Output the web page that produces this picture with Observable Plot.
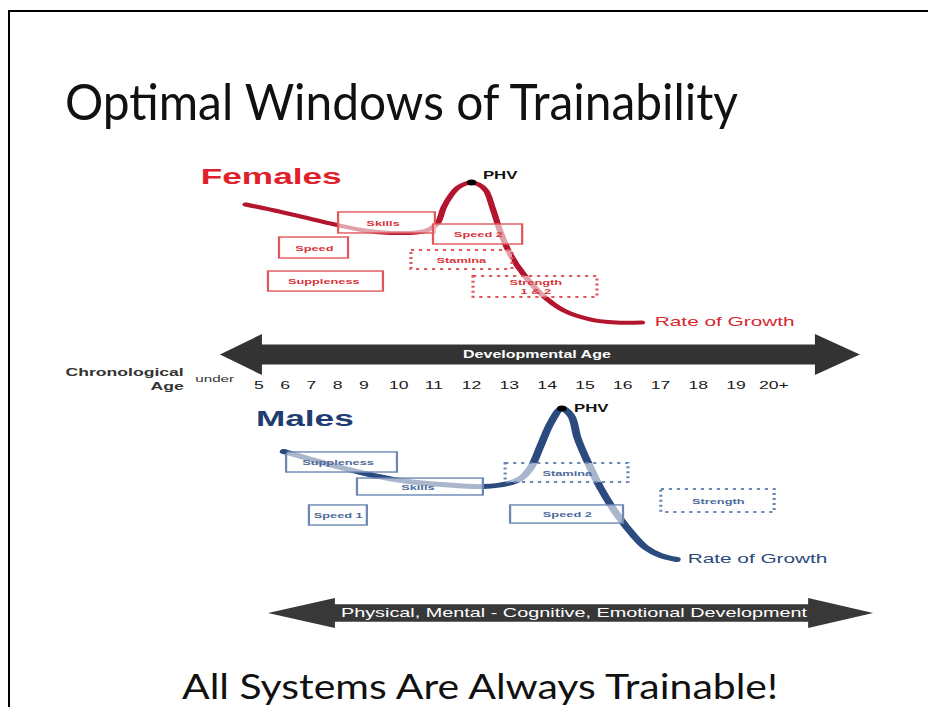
<!DOCTYPE html>
<html>
<head>
<meta charset="utf-8">
<script src="https://cdn.jsdelivr.net/npm/d3@7"></script>
<script src="https://cdn.jsdelivr.net/npm/@observablehq/plot@0.6"></script>
<style>
  html, body { margin: 0; background: #fff; overflow: hidden; }
  #page { position: relative; width: 928px; height: 707px; overflow: hidden; background: #fff; }
  #frame { position: absolute; left: 8px; top: 10px; width: 2000px; height: 2000px;
           border-left: 2.5px solid #000; border-top: 2.5px solid #000; }
  #page svg.layer { position: absolute; left: 0; transform-origin: 0 0; overflow: visible; }
</style>
</head>
<body>
<div id="page"><div id="frame"></div></div>
<script>
// ---------------- data ----------------
const titleText = "Optimal Windows of Trainability";
const footerText = "All Systems Are Always Trainable!";

const ageTicks  = [5, 6, 7, 8, 9, 10, 11, 12, 13, 14, 15, 16, 17, 18, 19, 20];
const ageLabels = ["5","6","7","8","9","10","11","12","13","14","15","16","17","18","19","20+"];

// Females: rate of growth curve (age, relative rate 0-10)
const femaleAge  = [4.50, 5.84, 6.98, 8.05, 9.06, 9.77, 10.49, 10.86, 11.11, 11.26, 11.45, 11.64, 11.85, 12.00, 12.19, 12.38, 12.56, 12.77, 13.04, 13.38, 13.83, 14.44, 15.16, 15.82, 16.51];
const femaleRate = [8.43, 7.90, 7.40, 6.93, 6.55, 6.40, 6.43, 6.64, 7.14, 8.21, 9.07, 9.64, 9.93, 10.0, 9.86, 9.43, 8.14, 6.43, 4.79, 3.43, 2.07, 0.86, 0.21, 0.00, 0.00];
// Females: windows of trainability
const femaleWindows = ["Skills", "Speed 2", "Speed", "Suppleness", "Stamina", "Strength\n1 & 2"];
const femaleStart   = [8.05, 11.00, 5.80, 5.38, 10.37, 12.06];
const femaleEnd     = [11.05, 13.36, 8.43, 9.57, 13.09, 15.34];
const femaleTop     = [7.86, 7.00, 6.07, 3.64, 5.14, 3.29];
const femaleBottom  = [6.36, 5.57, 4.57, 2.21, 3.79, 1.79];
const femaleDotted  = [false, false, false, false, true, true];

// Males: rate of growth curve
const maleAge  = [5.95, 6.87, 8.12, 9.29, 10.26, 11.19, 12.32, 12.96, 13.30, 13.57, 13.83, 14.10, 14.39, 14.63, 14.81, 15.08, 15.42, 15.87, 16.29, 16.61, 17.01, 17.43];
const maleRate = [7.15, 6.69, 6.09, 5.56, 5.17, 4.97, 4.83, 5.03, 5.36, 6.09, 7.55, 9.07, 10.0, 9.54, 8.01, 6.42, 4.70, 2.91, 1.59, 0.79, 0.26, 0.00];
// Males: windows of trainability
const maleWindows = ["Suppleness", "Skills", "Speed 1", "Stamina", "Speed 2", "Strength"];
const maleStart   = [6.07, 8.77, 6.94, 12.91, 13.04, 17.03];
const maleEnd     = [9.97, 12.32, 9.11, 16.16, 16.03, 20.03];
const maleTop     = [7.09, 5.36, 3.58, 6.36, 3.58, 4.64];
const maleBottom  = [5.76, 4.24, 2.25, 5.10, 2.38, 3.11];
const maleDotted  = [false, false, false, true, false, true];

// Arrows (age extents)
const devArrowX  = [3.55, 5.15, 5.15, 21.11, 21.11, 22.30];
const devArrowHW = [0, 1, 0.49, 0.49, 1, 0];
const devLabel = "Developmental Age";
const lifeArrowX  = [5.38, 7.93, 7.93, 20.93, 20.93, 22.65];
const lifeArrowHW = [0, 1, 0.58, 0.58, 1, 0];
const lifeLabel = "Physical, Mental - Cognitive, Emotional Development";

// ---------------- layout ----------------
const S = 1.6; // the original slide graphic is stretched horizontally
const W = 928 / S;
const xScale = {type: "linear", domain: [5, 9, 11, 20], range: [258, 363, 433, 773].map(v => v / S)};
const FONT = "'Liberation Sans', Arial, Helvetica, sans-serif";
const page = document.getElementById("page");

function place(svg, top) {
  svg.classList.add("layer");
  svg.style.top = top + "px";
  svg.style.transform = `scaleX(${S})`;
  svg.style.background = "transparent";
  page.appendChild(svg);
}

function panel(o) {
  const curve = o.ages.map((a, i) => ({age: a, rate: o.rates[i]}));
  const rows = o.names.map((name, i) => ({name, x1: o.x1[i], x2: o.x2[i], y1: o.y1[i], y2: o.y2[i], dotted: o.dotted[i]}));
  const peak = curve.reduce((m, d) => d.rate > m.rate ? d : m);
  const marks = [
    Plot.line(curve, {x: "age", y: "rate", stroke: o.curveColor, strokeWidth: o.curveWidth, curve: "catmull-rom", strokeLinecap: "round"}),
    Plot.rect(rows.filter(d => !d.dotted), {x1: "x1", x2: "x2", y1: "y1", y2: "y2", fill: "white", fillOpacity: 0.6, stroke: o.boxColor, strokeWidth: 1.4}),
    Plot.rect(rows.filter(d => d.dotted), {x1: "x1", x2: "x2", y1: "y1", y2: "y2", fill: "white", fillOpacity: 0.6, stroke: o.boxColor, strokeWidth: 2, strokeDasharray: "2,3"}),
    Plot.text(rows, {x: d => (d.x1 + d.x2) / 2, y: d => (d.y1 + d.y2) / 2, text: "name", fill: o.textColor, fontSize: 8, fontWeight: "bold", lineHeight: 1.05}),
    Plot.dot([peak], {x: "age", y: "rate", r: 3, fill: "#000"}),
    Plot.text([o.label], {x: o.labelAge, y: o.labelRate, textAnchor: "start", fill: o.labelColor, fontSize: 22, fontWeight: "bold"}),
    Plot.text(["PHV"], {x: o.phvAge, y: o.phvRate, textAnchor: "start", fill: "#111", fontSize: 10.5, fontWeight: "bold"}),
    Plot.text(["Rate of Growth"], {x: o.rogAge, y: o.rogRate, textAnchor: "start", fill: o.rogColor, fontSize: 13})
  ];
  if (o.startDot) marks.push(Plot.dot([curve[0]], {x: "age", y: "rate", r: 2.2, fill: o.curveColor}));
  return Plot.plot({
    width: W, height: o.height, margin: 0,
    style: {fontFamily: FONT},
    x: {...xScale, axis: null},
    y: {domain: [0, 10], range: o.yRange, axis: null},
    marks
  });
}

// Females panel
place(panel({
  ages: femaleAge, rates: femaleRate,
  names: femaleWindows, x1: femaleStart, x2: femaleEnd, y1: femaleBottom, y2: femaleTop, dotted: femaleDotted,
  curveColor: "#b3142e", curveWidth: 4, boxColor: "#e2575c", textColor: "#d8353c",
  label: "Females", labelAge: 2.79, labelRate: 10.43, labelColor: "#e0202a",
  phvAge: 12.30, phvRate: 10.5, rogAge: 16.85, rogRate: 0.07, rogColor: "#d9262e",
  height: 180, yRange: [172, 32]
}), 150);

// Developmental / chronological age band
{
  const arrow = devArrowX.map((x, i) => ({x, lo: -devArrowHW[i], hi: devArrowHW[i]}));
  const svg = Plot.plot({
    width: W, height: 70, marginTop: 0, marginLeft: 0, marginRight: 0, marginBottom: 22,
    style: {fontFamily: FONT},
    x: {...xScale, label: null},
    y: {domain: [-1, 1], range: [45, 4], axis: null},
    marks: [
      Plot.areaY(arrow, {x: "x", y1: "lo", y2: "hi", fill: "#333", curve: "linear"}),
      Plot.text([devLabel], {x: 13.73, y: 0, fill: "#fff", fontSize: 10, fontWeight: "bold"}),
      Plot.axisX(ageTicks, {anchor: "bottom", tickSize: 0, tickPadding: 3, label: null, fontSize: 11, color: "#1a1a1a",
        tickFormat: d => ageLabels[ageTicks.indexOf(d)]}),
      Plot.text(["Chronological\nAge"], {x: 2.14, y: -1.146, textAnchor: "end", fill: "#333", fontSize: 11, fontWeight: "bold", lineHeight: 1.25}),
      Plot.text(["under"], {x: 3.32, y: -1.146, fill: "#333", fontSize: 9.5})
    ]
  });
  place(svg, 330);
}

// Males panel
place(panel({
  ages: maleAge, rates: maleRate,
  names: maleWindows, x1: maleStart, x2: maleEnd, y1: maleBottom, y2: maleTop, dotted: maleDotted,
  curveColor: "#2b4a7d", curveWidth: 5, boxColor: "#6c87b4", textColor: "#4c6a99",
  label: "Males", labelAge: 4.89, labelRate: 9.34, labelColor: "#1f3d73",
  phvAge: 14.71, phvRate: 10.0, rogAge: 17.72, rogRate: 0.07, rogColor: "#2b4a7d",
  height: 185, yRange: [159, 8], startDot: true
}), 400);

// Bottom development arrow
{
  const arrow = lifeArrowX.map((x, i) => ({x, lo: -lifeArrowHW[i], hi: lifeArrowHW[i]}));
  const svg = Plot.plot({
    width: W, height: 50, margin: 0,
    style: {fontFamily: FONT},
    x: {...xScale, axis: null},
    y: {domain: [-1, 1], range: [38, 8], axis: null},
    marks: [
      Plot.areaY(arrow, {x: "x", y1: "lo", y2: "hi", fill: "#383838", curve: "linear"}),
      Plot.text([lifeLabel], {x: 14.71, y: 0, fill: "#fff", fontSize: 12.4})
    ]
  });
  place(svg, 590);
}

// Title and footer (slide text)
{
  const ns = "http://www.w3.org/2000/svg";
  const svg = document.createElementNS(ns, "svg");
  svg.setAttribute("width", 928);
  svg.setAttribute("height", 707);
  svg.style.position = "absolute";
  svg.style.left = "0";
  svg.style.top = "0";
  const add = (txt, x, y, size, len) => {
    const t = document.createElementNS(ns, "text");
    t.setAttribute("x", x); t.setAttribute("y", y);
    t.setAttribute("font-family", "Lato, 'Open Sans', sans-serif");
    t.setAttribute("font-size", size);
    t.setAttribute("fill", "#111");
    t.setAttribute("textLength", len);
    t.setAttribute("lengthAdjust", "spacingAndGlyphs");
    t.textContent = txt;
    svg.appendChild(t);
  };
  add(titleText, 65, 120, 50, 673);
  add(footerText, 182, 699, 35, 596);
  page.appendChild(svg);
}
</script>
</body>
</html>
